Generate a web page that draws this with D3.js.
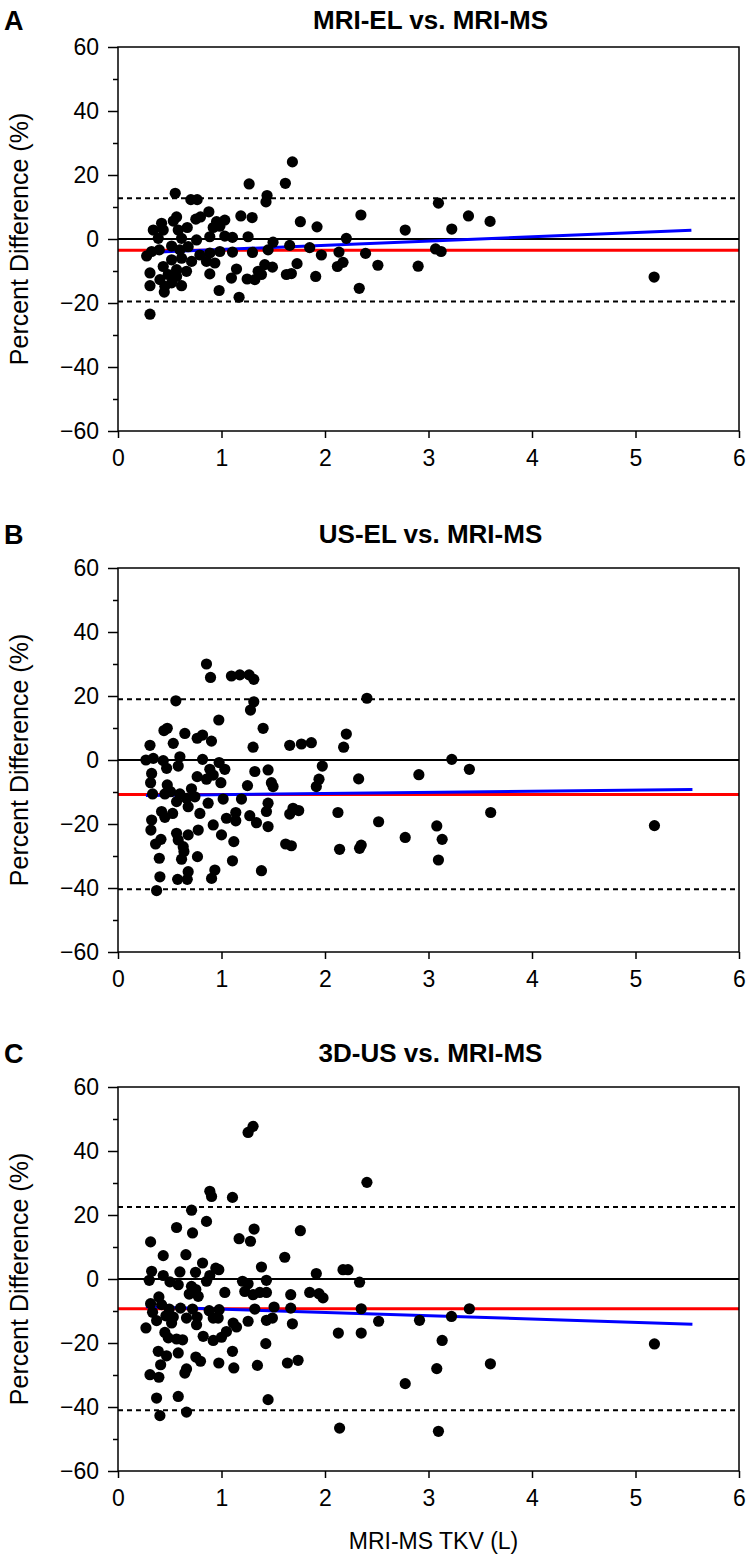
<!DOCTYPE html>
<html>
<head>
<meta charset="utf-8">
<script src="https://cdn.jsdelivr.net/npm/d3@7"></script>
<style>
  html, body { margin: 0; padding: 0; background: #fff; }
  svg text { font-family: "Liberation Sans", Arial, Helvetica, sans-serif; fill: #000; }
</style>
</head>
<body>
<svg id="chart" width="748" height="1558"></svg>
<script>
// ---------------- DATA ----------------
const panelLetters = ["A", "B", "C"];
const panelTitles = ["MRI-EL vs. MRI-MS", "US-EL vs. MRI-MS", "3D-US vs. MRI-MS"];
const xTicks = [0, 1, 2, 3, 4, 5, 6];
const yTicksMajor = [-60, -40, -20, 0, 20, 40, 60];
const yTicksMinor = [-50, -30, -10, 10, 30, 50];
const xLabel = "MRI-MS TKV (L)";
const yLabel = "Percent Difference (%)";

// Bland-Altman statistics per panel
const meanDiff = [-3.5, -10.8, -9.3];
const upperLoA = [12.7, 19.0, 22.5];
const lowerLoA = [-19.5, -40.4, -41.0];
// regression (proportional bias) lines: slope, intercept, x-range
const regSlope = [1.316, 0.35, -1.03];
const regIntercept = [-4.59, -11.15, -8.4];
const regXStart = [0.28, 0.27, 0.27];
const regXEnd = [5.54, 5.55, 5.55];

// points: [MRI-MS TKV (L), percent difference]
const pointsA = [
  [1.685,24.1],[1.267,17.2],[1.617,17.4],[0.553,14.3],[0.704,12.3],[0.765,12.3],[1.44,13.6],[1.43,11.6],
  [0.878,8.5],[0.566,6.9],[0.534,5.6],[0.752,6.2],[0.797,6.9],[1.187,7.2],[1.296,6.7],[0.421,4.9],
  [0.341,2.8],[0.437,2.8],[0.582,2.8],[0.669,3.6],[0.952,5.4],[1.032,5.9],[0.984,4.0],[0.92,3.6],
  [0.389,0.2],[0.614,0.2],[0.759,-0.3],[0.887,0.7],[1.032,0.9],[1.106,0.5],[1.257,0.7],[1.498,-1.0],
  [1.762,5.4],[1.923,3.8],[2.206,0.2],[1.659,-2.0],[1.852,-2.7],[1.965,-5.0],[2.135,-4.1],[2.174,-7.3],
  [2.12,-8.6],[0.277,-5.3],[0.325,-3.9],[0.399,-3.4],[0.518,-2.2],[0.598,-3.4],[0.678,-2.4],[0.791,-5.0],
  [0.887,-4.4],[0.984,-3.9],[1.106,-4.1],[1.299,-4.2],[1.45,-3.4],[0.518,-6.5],[0.614,-6.0],[0.711,-7.0],
  [0.855,-7.0],[0.936,-7.5],[0.309,-10.6],[0.437,-8.6],[0.566,-9.6],[0.662,-10.1],[0.887,-10.9],[1.145,-9.4],
  [1.418,-8.0],[1.492,-8.8],[1.354,-10.1],[1.386,-11.1],[1.322,-12.7],[1.248,-12.5],[1.096,-12.2],[1.627,-11.1],
  [1.675,-10.8],[1.73,-7.7],[1.91,-11.7],[0.309,-14.6],[0.405,-12.7],[0.453,-14.8],[0.447,-16.6],[0.518,-13.7],
  [0.614,-14.6],[0.485,-11.1],[0.566,-11.7],[0.977,-16.1],[1.17,-18.2],[0.309,-23.5],
  [3.096,11.2],[2.347,7.5],[3.386,7.2],[3.595,5.5],[2.775,2.8],[3.225,3.1],[2.392,-4.5],[3.068,-3.1],
  [3.122,-3.9],[2.511,-8.2],[2.900,-8.5],[2.331,-15.4],[5.180,-11.9]
];
const pointsB = [
  [0.855,30.0],[0.894,25.8],[1.096,26.25],[1.177,26.6],[1.267,26.6],[1.312,25.2],[0.559,18.5],[1.312,18.2],
  [1.28,15.6],[0.974,12.5],[1.402,9.9],[0.444,9.2],[0.476,9.9],[0.646,8.3],[0.534,5.2],[0.309,4.6],
  [0.765,6.8],[0.817,7.8],[0.903,5.9],[1.305,4.0],[1.659,4.6],[1.772,5.0],[1.868,5.4],[2.206,8.1],
  [2.18,4.0],[0.27,0.0],[0.341,0.5],[0.437,-0.2],[0.598,1.0],[0.817,0.2],[0.977,-0.8],[0.582,-1.9],
  [0.47,-2.6],[1.032,-2.9],[0.887,-2.9],[0.325,-4.2],[0.92,-4.7],[1.322,-3.6],[1.45,-3.1],[1.974,-1.9],
  [1.942,-6.0],[1.916,-8.3],[1.498,-8.3],[1.482,-7.1],[0.765,-5.2],[0.855,-6.0],[0.994,-7.1],[0.315,-7.1],
  [1.251,-8.0],[0.476,-7.8],[0.71,-9.0],[0.334,-10.6],[0.453,-10.6],[0.508,-9.9],[0.598,-10.6],[0.662,-12.0],
  [0.743,-11.5],[1.193,-12.2],[1.016,-12.2],[0.871,-13.5],[0.566,-13.0],[0.678,-14.6],[0.791,-16.7],[1.45,-13.5],
  [1.434,-16.1],[0.421,-16.1],[0.528,-16.7],[0.453,-17.9],[0.325,-18.75],[1.048,-18.2],[1.138,-16.4],[1.138,-19.0],
  [1.273,-17.4],[1.338,-19.6],[1.45,-20.8],[1.659,-16.9],[1.691,-15.1],[1.746,-15.8],[2.125,-16.4],[0.318,-21.9],
  [0.566,-22.9],[0.678,-23.4],[0.775,-21.9],[0.92,-20.3],[1.0,-23.4],[0.363,-26.25],[0.415,-24.8],[0.582,-25.0],
  [0.63,-27.1],[0.637,-28.6],[1.119,-25.5],[1.62,-26.25],[1.675,-26.8],[2.141,-27.9],[0.399,-30.7],[0.614,-31.0],
  [0.768,-30.2],[1.106,-31.5],[0.405,-36.5],[0.576,-37.3],[0.678,-34.9],[0.669,-37.3],[0.904,-37.0],[0.936,-34.4],
  [1.386,-34.6],[0.373,-40.8],
  [2.405,19.3],[3.225,0.2],[3.395,-2.9],[2.325,-5.9],[2.907,-4.6],[2.518,-19.3],[2.775,-24.2],[3.080,-20.6],
  [3.132,-24.8],[3.096,-31.25],[2.35,-26.6],[2.334,-27.6],[3.601,-16.4],[5.183,-20.5]
];
const pointsC = [
  [1.305,47.7],[1.257,45.8],[0.887,27.4],[0.904,25.8],[1.106,25.5],[0.711,21.5],[0.855,18.0],[0.566,16.1],
  [0.72,14.4],[1.315,15.6],[1.762,15.1],[0.315,11.6],[1.17,12.6],[1.28,11.8],[0.437,7.3],[0.656,7.6],
  [1.611,6.8],[0.817,5.0],[1.386,3.75],[0.945,3.4],[0.974,2.9],[0.325,2.4],[0.598,2.2],[0.749,2.1],
  [0.437,1.1],[0.887,1.1],[1.916,1.7],[2.174,2.9],[0.302,-0.4],[0.502,-0.9],[0.582,-1.8],[0.855,-0.7],
  [1.203,-0.7],[1.257,-1.5],[1.434,-0.4],[0.71,-2.3],[0.752,-3.3],[0.688,-4.7],[0.775,-5.4],[1.032,-4.2],
  [1.225,-3.9],[1.305,-4.9],[1.37,-4.2],[1.434,-4.2],[1.669,-4.9],[1.852,-4.2],[1.942,-4.6],[1.981,-5.9],
  [0.395,-5.6],[0.315,-7.7],[0.421,-8.0],[0.495,-9.4],[0.604,-9.1],[0.72,-9.4],[0.334,-10.4],[0.881,-9.9],
  [0.977,-9.6],[1.322,-9.4],[1.508,-8.75],[1.669,-9.1],[0.463,-11.5],[0.534,-11.9],[0.662,-12.2],[0.765,-11.9],
  [0.92,-12.2],[0.968,-12.2],[0.373,-13.0],[0.518,-13.75],[0.759,-14.3],[1.113,-13.75],[1.145,-15.0],[1.257,-13.2],
  [1.434,-12.9],[1.492,-12.2],[1.685,-14.0],[0.27,-15.3],[0.453,-16.7],[0.486,-18.4],[0.624,-19.0],[0.566,-18.75],
  [0.823,-17.9],[0.92,-19.2],[1.0,-18.2],[1.048,-16.4],[2.129,-16.9],[0.389,-22.6],[0.469,-24.0],[0.582,-23.1],
  [0.412,-26.8],[0.752,-24.4],[0.797,-25.7],[0.974,-26.25],[1.106,-22.6],[1.119,-27.8],[1.428,-20.2],[1.347,-27.0],
  [1.637,-26.25],[1.74,-25.4],[0.309,-29.9],[0.395,-30.7],[0.646,-29.4],[0.662,-28.1],[0.373,-37.2],[0.582,-36.7],
  [0.405,-42.7],[0.662,-41.6],[1.45,-37.7],[2.141,-46.6],
  [2.405,30.2],[2.222,2.9],[2.334,-1.0],[2.35,-9.3],[2.518,-13.2],[2.913,-12.9],[3.222,-11.7],[3.395,-9.3],
  [2.35,-16.9],[3.132,-19.2],[3.080,-28.0],[2.775,-32.7],[3.598,-26.5],[5.183,-20.3],[3.096,-47.6]
];
const allPoints = [pointsA, pointsB, pointsC];

// ---------------- LAYOUT ----------------
const svg = d3.select("#chart");
const plotLeft = 118, plotRight = 739;
const panelTops = [47, 568, 1087];
const panelH = 384;
const titleBaselines = [29, 543, 1062];

const x = d3.scaleLinear().domain([0, 6]).range([plotLeft, plotRight]);

panelTops.forEach((top, i) => {
  const y = d3.scaleLinear().domain([-60, 60]).range([top + panelH, top]);
  const g = svg.append("g");

  // title & letter
  g.append("text").attr("x", (plotLeft + plotRight) / 2 + 2).attr("y", titleBaselines[i])
    .attr("text-anchor", "middle").attr("font-size", 26).attr("font-weight", "bold")
    .text(panelTitles[i]);
  g.append("text").attr("x", 4).attr("y", titleBaselines[i] + 1)
    .attr("font-size", 27).attr("font-weight", "bold").text(panelLetters[i]);

  // reference lines
  g.append("line").attr("x1", x(0)).attr("x2", x(6)).attr("y1", y(0)).attr("y2", y(0))
    .attr("stroke", "#000").attr("stroke-width", 2);
  [upperLoA[i], lowerLoA[i]].forEach(v => {
    g.append("line").attr("x1", x(0)).attr("x2", x(6)).attr("y1", y(v)).attr("y2", y(v))
      .attr("stroke", "#000").attr("stroke-width", 2).attr("stroke-dasharray", "5,4");
  });
  g.append("line").attr("x1", x(0)).attr("x2", x(6)).attr("y1", y(meanDiff[i])).attr("y2", y(meanDiff[i]))
    .attr("stroke", "#ff0000").attr("stroke-width", 3);
  g.append("line")
    .attr("x1", x(regXStart[i])).attr("y1", y(regIntercept[i] + regSlope[i] * regXStart[i]))
    .attr("x2", x(regXEnd[i])).attr("y2", y(regIntercept[i] + regSlope[i] * regXEnd[i]))
    .attr("stroke", "#0000ff").attr("stroke-width", 3);

  // points
  g.append("g").selectAll("circle").data(allPoints[i]).join("circle")
    .attr("cx", d => x(d[0])).attr("cy", d => y(d[1])).attr("r", 5.6).attr("fill", "#000");

  // frame
  g.append("rect").attr("x", plotLeft).attr("y", top).attr("width", plotRight - plotLeft).attr("height", panelH)
    .attr("fill", "none").attr("stroke", "#000").attr("stroke-width", 1.5);

  // axes
  const yAxis = d3.axisLeft(y).tickValues(yTicksMajor).tickSize(10).tickPadding(9)
    .tickFormat(d3.format("d"));
  const ya = g.append("g").attr("transform", `translate(${plotLeft},0)`).call(yAxis);
  ya.select(".domain").remove();
  ya.selectAll("text").attr("font-size", 23).style("font-family", "'Liberation Sans', Arial, sans-serif");
  ya.selectAll("line").attr("stroke-width", 1.5);
  const yMinor = d3.axisLeft(y).tickValues(yTicksMinor).tickSize(5).tickFormat("");
  const ym = g.append("g").attr("transform", `translate(${plotLeft},0)`).call(yMinor);
  ym.select(".domain").remove();
  ym.selectAll("line").attr("stroke-width", 1.5);

  const xAxis = d3.axisBottom(x).tickValues(xTicks).tickSize(7).tickPadding(12).tickFormat(d3.format("d"));
  const xa = g.append("g").attr("transform", `translate(0,${top + panelH})`).call(xAxis);
  xa.select(".domain").remove();
  xa.selectAll("text").attr("font-size", 23).style("font-family", "'Liberation Sans', Arial, sans-serif");
  xa.selectAll("line").attr("stroke-width", 1.5);

  // y label
  g.append("text").attr("transform", `translate(28,${y(0)}) rotate(-90)`)
    .attr("text-anchor", "middle").attr("font-size", 25).text(yLabel);
});

svg.append("text").attr("x", (plotLeft + plotRight) / 2 + 5).attr("y", 1549)
  .attr("text-anchor", "middle").attr("font-size", 23).text(xLabel);
</script>
</body>
</html>
